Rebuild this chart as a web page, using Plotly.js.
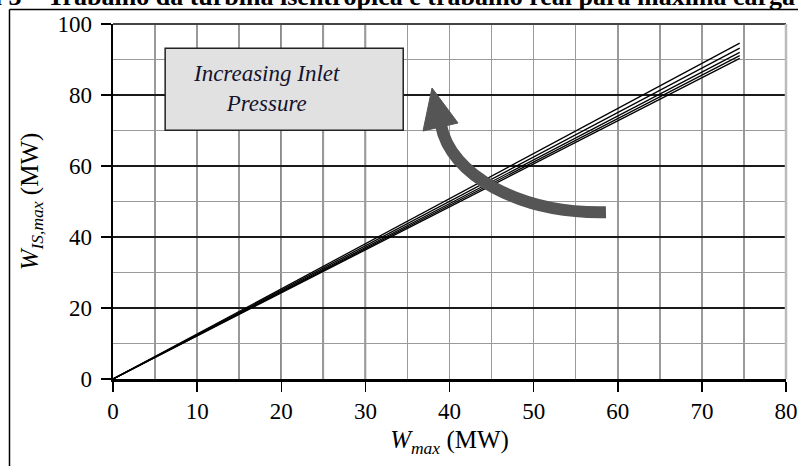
<!DOCTYPE html>
<html>
<head>
<meta charset="utf-8">
<script src="https://cdn.plot.ly/plotly-3.0.1.min.js"></script>
<style>html,body{margin:0;padding:0;background:#fff;}#chart{width:798px;height:466px;}</style>
</head>
<body>
<div id="chart"></div>
<script>
// Data
const wMax = [0, 74.5];                 // W_max (MW)
const wIsCurve1 = [0, 94.6];            // W_IS,max (MW), highest inlet pressure
const wIsCurve2 = [0, 93.2];
const wIsCurve3 = [0, 92.0];
const wIsCurve4 = [0, 91.1];
const wIsCurve5 = [0, 90.3];            // lowest inlet pressure
const xTickVals = [0, 10, 20, 30, 40, 50, 60, 70, 80];
const yTickVals = [0, 20, 40, 60, 80, 100];
const boxText = 'Increasing Inlet<br>Pressure';
const titleText = 'Figura 3 – Trabalho da turbina isentrópica e trabalho real para máxima carga';

const series = [wIsCurve1, wIsCurve2, wIsCurve3, wIsCurve4, wIsCurve5];
const traces = series.map(ys => ({
  x: wMax, y: ys, type: 'scatter', mode: 'lines',
  line: {color: '#000', width: 1.3}, showlegend: false, hoverinfo: 'skip'
}));

const serif = 'Liberation Serif, Times New Roman, serif';
const gray = '#9a9a9a';
const arrowColor = '#555555';

// darker vertical grid lines seen in the scan (left part)
const shapes = [];
[5, 10, 15, 20, 25, 30].forEach(v => shapes.push({
  type: 'line', xref: 'x', yref: 'paper', x0: v, x1: v, y0: 0, y1: 1,
  line: {color: '#1a1a1a', width: 1.5}, layer: 'below'
}));
// plot frame top and right
shapes.push({type: 'line', xref: 'paper', yref: 'paper', x0: 0, x1: 1, y0: 1, y1: 1, line: {color: '#444', width: 2}});
shapes.push({type: 'line', xref: 'paper', yref: 'paper', x0: 1, x1: 1, y0: 0, y1: 1, line: {color: '#bbb', width: 2.5}});
// annotation box
shapes.push({type: 'rect', xref: 'x', yref: 'y', x0: 6.2, x1: 34.5, y0: 70.1, y1: 93.2,
  fillcolor: '#e1e1e1', line: {color: '#222', width: 1.5}, layer: 'above'});
// curved arrow shaft
shapes.push({type: 'path', xref: 'x', yref: 'y',
  path: 'M 58.6,47.0 C 48.38,46.5 40.06,57.46 38.99,71.55',
  line: {color: arrowColor, width: 12}, fillcolor: 'rgba(0,0,0,0)', layer: 'above'});
// arrow head
shapes.push({type: 'path', xref: 'x', yref: 'y',
  path: 'M 37.92,81.97 L 36.85,69.86 L 41.01,72.11 Z',
  line: {color: arrowColor, width: 1}, fillcolor: arrowColor, layer: 'above'});
// outer figure frame (left and top)
shapes.push({type: 'line', xref: 'paper', yref: 'paper', x0: -0.1538, x1: -0.1538, y0: -0.25, y1: 1.0408, line: {color: '#000', width: 1.5}});
shapes.push({type: 'line', xref: 'paper', yref: 'paper', x0: -0.1538, x1: 1.03, y0: 1.0408, y1: 1.0408, line: {color: '#000', width: 1.5}});

const layout = {
  width: 798, height: 466,
  margin: {l: 113, r: 12, t: 24, b: 87},
  paper_bgcolor: '#fff', plot_bgcolor: '#fff',
  showlegend: false,
  font: {family: serif, color: '#000'},
  xaxis: {
    range: [0, 80], tickvals: xTickVals, ticktext: xTickVals.map(String),
    ticks: 'outside', ticklen: 10, tickwidth: 1.5, tickcolor: '#000',
    showline: true, linecolor: '#000', linewidth: 2.5,
    showgrid: true, gridcolor: gray, gridwidth: 1.5,
    minor: {dtick: 5, tick0: 0, showgrid: true, gridcolor: gray, gridwidth: 1.5, ticks: ''},
    zeroline: false, fixedrange: true,
    tickfont: {family: serif, size: 23, color: '#000'},
    title: {text: '<i>W</i><sub><i>max</i></sub> (MW)', font: {family: serif, size: 25, color: '#000'}, standoff: 8}
  },
  yaxis: {
    range: [0, 100], tickvals: yTickVals, ticktext: yTickVals.map(String),
    ticks: 'outside', ticklen: 10, tickwidth: 1.5, tickcolor: '#000',
    ticklabelstandoff: 4,
    showline: true, linecolor: '#000', linewidth: 2.5,
    showgrid: true, gridcolor: '#1a1a1a', gridwidth: 1.5,
    minor: {dtick: 10, tick0: 0, showgrid: true, gridcolor: gray, gridwidth: 1.5, ticks: ''},
    zeroline: false, fixedrange: true,
    tickfont: {family: serif, size: 23, color: '#000'},
    title: {text: '<i>W</i><sub><i>IS,max</i></sub> (MW)', font: {family: serif, size: 25, color: '#000'}, standoff: 12}
  },
  shapes: shapes,
  annotations: [
    {xref: 'x', yref: 'y', x: 18.2, y: 81.7, text: '<i>' + boxText + '</i>', showarrow: false,
     font: {family: serif, size: 23, color: '#14142e'}, align: 'center', xanchor: 'center', yanchor: 'middle'},
    {xref: 'paper', yref: 'paper', x: 1.0163, y: 1, xanchor: 'right', yanchor: 'bottom', yshift: 11,
     text: '<b>' + titleText + '</b>', showarrow: false,
     font: {family: serif, size: 26, color: '#000'}}
  ]
};

Plotly.newPlot('chart', traces, layout, {displayModeBar: false, staticPlot: true});
</script>
</body>
</html>
